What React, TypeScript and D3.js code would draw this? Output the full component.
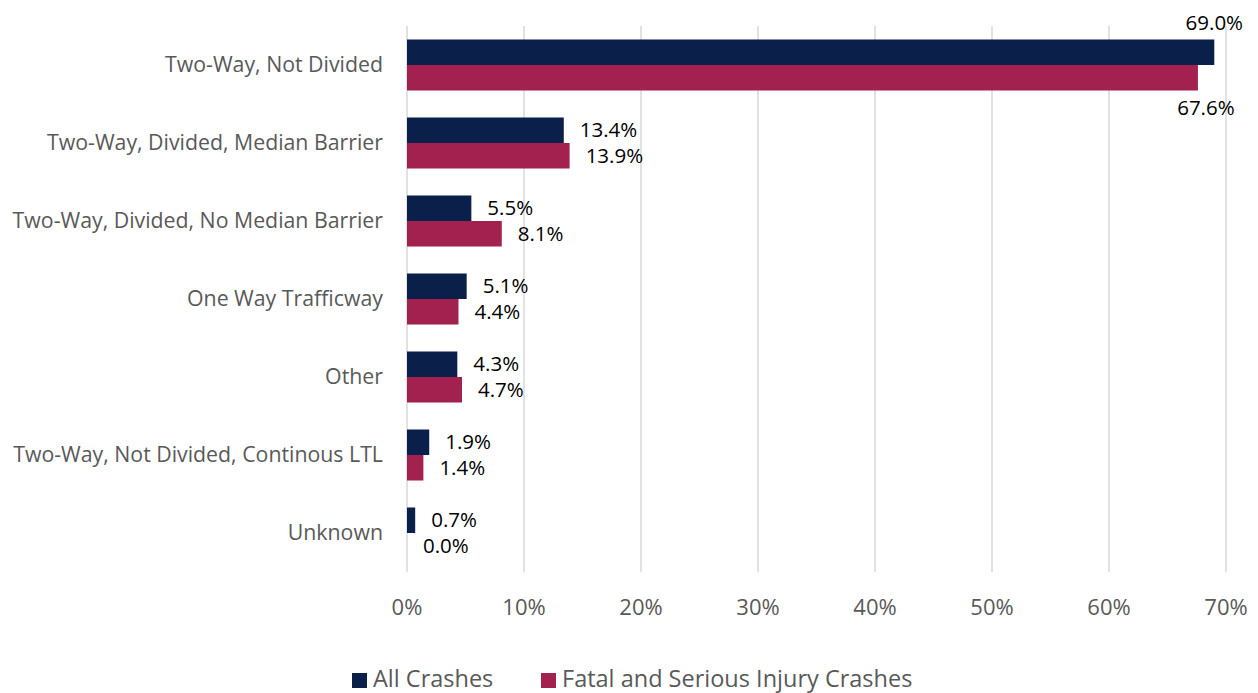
import { useEffect, useRef } from "react";
import * as d3 from "d3";

const categories = [
  "Two-Way, Not Divided",
  "Two-Way, Divided, Median Barrier",
  "Two-Way, Divided, No Median Barrier",
  "One Way Trafficway",
  "Other",
  "Two-Way, Not Divided, Continous LTL",
  "Unknown",
];
const allCrashes = [69.0, 13.4, 5.5, 5.1, 4.3, 1.9, 0.7];
const fatalSerious = [67.6, 13.9, 8.1, 4.4, 4.7, 1.4, 0.0];
const seriesNames = ["All Crashes", "Fatal and Serious Injury Crashes"];
const colors = ["#0b1f4b", "#a2214e"];
const ticks = [0, 10, 20, 30, 40, 50, 60, 70];

const App = () => {
  const svgRef = useRef<SVGSVGElement | null>(null);

  useEffect(() => {
    if (!svgRef.current) return;
    const svg = d3.select(svgRef.current);
    svg.selectAll("*").remove();

    const width = 1258;
    const height = 693;
    const margin = { top: 26, right: 32, bottom: 121, left: 407 };
    const font = "'Open Sans', sans-serif";

    const x = d3.scaleLinear().domain([0, 70]).range([margin.left, width - margin.right]);
    const y = d3.scaleBand().domain(categories).range([margin.top, height - margin.bottom]).paddingInner(0.346).paddingOuter(0.173);
    const sub = d3.scaleBand().domain(["0", "1"]).range([0, y.bandwidth()]);

    // gridlines
    svg.append("g")
      .selectAll("line")
      .data(ticks)
      .join("line")
      .attr("x1", d => x(d)).attr("x2", d => x(d))
      .attr("y1", margin.top).attr("y2", height - margin.bottom)
      .attr("stroke", "#d9d9d9").attr("stroke-width", 1.5);

    // tick labels
    svg.append("g")
      .selectAll("text")
      .data(ticks)
      .join("text")
      .attr("x", d => x(d)).attr("y", 615)
      .attr("text-anchor", "middle")
      .attr("font-family", font).attr("font-size", 22).attr("fill", "#595959")
      .text(d => `${d}%`);

    // category labels
    svg.append("g")
      .selectAll("text")
      .data(categories)
      .join("text")
      .attr("x", 383)
      .attr("y", d => (y(d) ?? 0) + y.bandwidth() / 2)
      .attr("dy", "0.35em")
      .attr("text-anchor", "end")
      .attr("font-family", font).attr("font-size", 21.3).attr("fill", "#595959")
      .text(d => d);

    [allCrashes, fatalSerious].forEach((vals, si) => {
      const g = svg.append("g");
      g.selectAll("rect")
        .data(vals)
        .join("rect")
        .attr("x", x(0))
        .attr("y", (_, i) => (y(categories[i]) ?? 0) + (sub(String(si)) ?? 0))
        .attr("width", d => x(d) - x(0))
        .attr("height", sub.bandwidth())
        .attr("fill", colors[si]);

      g.selectAll("text")
        .data(vals)
        .join("text")
        .attr("font-family", font).attr("font-size", 20.5).attr("fill", "#000")
        .each(function (d, i) {
          const t = d3.select(this);
          const barY = (y(categories[i]) ?? 0) + (sub(String(si)) ?? 0);
          if (d > 60) {
            t.attr("text-anchor", "middle")
              .attr("x", si === 0 ? x(d) : x(d) + 8)
              .attr("y", si === 0 ? barY - 9 : barY + sub.bandwidth() + 24);
          } else {
            t.attr("text-anchor", "start")
              .attr("x", x(d) + 16)
              .attr("y", barY + sub.bandwidth() / 2)
              .attr("dy", "0.35em");
          }
          t.text(`${d.toFixed(1)}%`);
        });
    });

    // legend
    const legendX = [352, 541];
    seriesNames.forEach((name, i) => {
      svg.append("rect")
        .attr("x", legendX[i]).attr("y", 673)
        .attr("width", 15).attr("height", 15)
        .attr("fill", colors[i]);
      svg.append("text")
        .attr("x", legendX[i] + 21).attr("y", 687)
        .attr("font-family", font).attr("font-size", 23.5).attr("fill", "#595959")
        .text(name);
    });
  }, []);

  return (
    <svg
      ref={svgRef}
      width={1258}
      height={693}
      style={{ position: "absolute", left: 0, top: 0, background: "#fff" }}
    />
  );
};

export default App;
